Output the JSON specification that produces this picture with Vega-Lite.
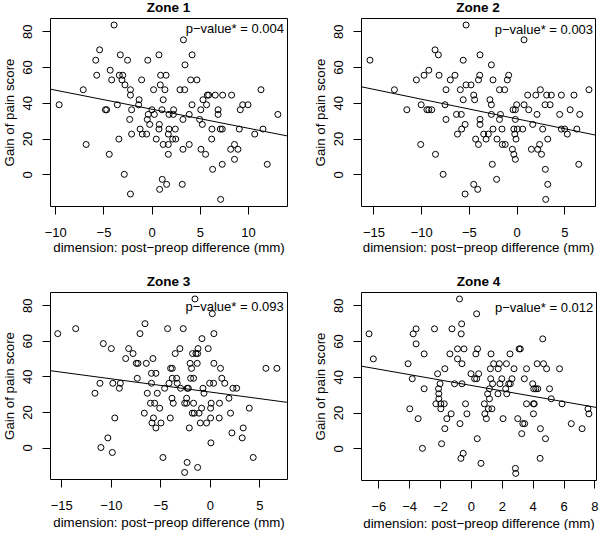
{
  "$schema": "https://vega.github.io/schema/vega-lite/v6.json",
  "padding": {"left": 1, "top": 0, "right": 0, "bottom": 0},
  "background": "white",
  "config": {
    "font": "Liberation Sans",
    "view": {"stroke": "black", "strokeWidth": 1},
    "axis": {"domain": false, "grid": false, "tickColor": "black", "tickSize": 8, "labelColor": "black", "labelFontSize": 13, "titleFontSize": 13.3, "titleFontWeight": "normal", "titleColor": "black", "labelFlush": false, "labelOverlap": false},
    "axisX": {"labelPadding": 12, "titlePadding": 1},
    "axisY": {"labelAngle": -90, "labelAlign": "center", "labelBaseline": "alphabetic", "labelPadding": 11, "titlePadding": 5},
    "title": {"fontSize": 13.5, "fontWeight": "bold", "color": "black", "offset": 4}
  },
  "datasets": {
    "z1": [{"x":-3.9,"y":83.5},{"x":3.3,"y":75.2},{"x":-5.4,"y":69.6},{"x":-3.25,"y":66.8},{"x":0.76,"y":66.8},{"x":4.2,"y":66.8},{"x":-5.8,"y":63.8},{"x":-2.5,"y":63.8},{"x":-0.4,"y":63.8},{"x":3.46,"y":61.2},{"x":-4.3,"y":58.2},{"x":-5.7,"y":55.4},{"x":-3.36,"y":55.4},{"x":-3.0,"y":55.4},{"x":0.93,"y":55.4},{"x":1.5,"y":55.4},{"x":-4.15,"y":52.8},{"x":-3.08,"y":52.8},{"x":-1.04,"y":52.8},{"x":4.05,"y":52.8},{"x":4.7,"y":52.8},{"x":-2.77,"y":50.0},{"x":0.9,"y":50.0},{"x":-7.1,"y":47.3},{"x":-2.2,"y":47.3},{"x":0.2,"y":47.3},{"x":1.38,"y":47.3},{"x":2.94,"y":47.3},{"x":3.43,"y":47.3},{"x":11.35,"y":47.3},{"x":-2.2,"y":44.3},{"x":5.78,"y":44.3},{"x":5.92,"y":44.3},{"x":6.6,"y":44.3},{"x":7.37,"y":44.3},{"x":8.3,"y":44.3},{"x":-1.3,"y":41.7},{"x":1.2,"y":41.7},{"x":5.33,"y":41.7},{"x":-9.6,"y":38.9},{"x":-3.56,"y":38.9},{"x":-1.35,"y":38.9},{"x":4.19,"y":38.9},{"x":5.7,"y":38.9},{"x":9.45,"y":38.9},{"x":10.0,"y":38.9},{"x":-4.8,"y":36.1},{"x":-4.67,"y":36.1},{"x":-2.08,"y":36.1},{"x":0.03,"y":36.1},{"x":1.07,"y":36.1},{"x":2.28,"y":36.1},{"x":5.1,"y":36.1},{"x":6.9,"y":36.1},{"x":9.2,"y":36.1},{"x":-0.35,"y":33.5},{"x":0.28,"y":33.5},{"x":1.8,"y":33.5},{"x":2.25,"y":33.5},{"x":3.9,"y":33.5},{"x":6.9,"y":33.5},{"x":13.1,"y":33.5},{"x":-2.28,"y":30.7},{"x":-0.45,"y":30.7},{"x":3.25,"y":30.7},{"x":4.98,"y":30.7},{"x":-0.2,"y":27.9},{"x":0.8,"y":27.9},{"x":5.26,"y":27.9},{"x":-1.2,"y":25.3},{"x":0.76,"y":25.3},{"x":1.8,"y":25.3},{"x":2.46,"y":25.3},{"x":6.26,"y":25.3},{"x":7.13,"y":25.3},{"x":7.33,"y":25.3},{"x":9.1,"y":25.3},{"x":11.56,"y":25.3},{"x":-2.08,"y":22.5},{"x":-0.97,"y":22.5},{"x":-0.52,"y":22.5},{"x":1.73,"y":22.5},{"x":10.7,"y":22.5},{"x":-3.4,"y":19.7},{"x":0.48,"y":19.7},{"x":2.18,"y":19.7},{"x":2.5,"y":19.7},{"x":6.23,"y":19.7},{"x":-6.8,"y":16.7},{"x":1.2,"y":16.7},{"x":1.73,"y":16.7},{"x":3.9,"y":16.7},{"x":8.6,"y":16.7},{"x":3.25,"y":14.0},{"x":5.12,"y":14.0},{"x":8.2,"y":14.0},{"x":8.96,"y":14.0},{"x":-4.4,"y":11.2},{"x":1.73,"y":11.2},{"x":5.6,"y":11.2},{"x":8.6,"y":8.4},{"x":7.33,"y":5.6},{"x":12.0,"y":5.6},{"x":6.33,"y":2.8},{"x":-2.84,"y":0},{"x":1.1,"y":-2.8},{"x":1.56,"y":-5.6},{"x":3.18,"y":-5.6},{"x":0.83,"y":-8.4},{"x":-2.2,"y":-11.0},{"x":7.16,"y":-14.0}],
    "z2": [{"x":-5.3,"y":83.5},{"x":0.77,"y":75.2},{"x":-8.55,"y":69.6},{"x":-8.2,"y":66.8},{"x":-3.84,"y":66.8},{"x":-15.36,"y":63.8},{"x":-5.6,"y":63.8},{"x":-2.65,"y":61.2},{"x":-9.2,"y":58.2},{"x":-9.7,"y":55.4},{"x":-8.13,"y":55.4},{"x":-6.46,"y":55.4},{"x":-3.87,"y":55.4},{"x":-0.84,"y":55.4},{"x":-10.5,"y":52.8},{"x":-6.95,"y":52.8},{"x":-4.0,"y":52.8},{"x":-2.48,"y":52.8},{"x":-0.98,"y":52.8},{"x":-5.3,"y":50.0},{"x":-4.78,"y":50.0},{"x":-12.8,"y":47.3},{"x":-7.4,"y":47.3},{"x":-5.9,"y":47.3},{"x":-1.8,"y":47.3},{"x":-1.26,"y":47.3},{"x":2.48,"y":47.3},{"x":7.57,"y":47.3},{"x":-4.5,"y":44.3},{"x":1.15,"y":44.3},{"x":2.0,"y":44.3},{"x":3.14,"y":44.3},{"x":3.63,"y":44.3},{"x":4.68,"y":44.3},{"x":6.0,"y":44.3},{"x":-5.6,"y":41.7},{"x":-4.4,"y":41.7},{"x":-2.8,"y":41.7},{"x":-10.0,"y":38.9},{"x":-7.5,"y":38.9},{"x":-2.65,"y":38.9},{"x":0,"y":38.9},{"x":0.77,"y":38.9},{"x":2.97,"y":38.9},{"x":3.5,"y":38.9},{"x":-11.5,"y":36.1},{"x":-9.4,"y":36.1},{"x":-9.2,"y":36.1},{"x":-8.9,"y":36.1},{"x":-0.38,"y":36.1},{"x":-0.14,"y":36.1},{"x":1.26,"y":36.1},{"x":5.6,"y":36.1},{"x":-6.3,"y":33.5},{"x":-5.8,"y":33.5},{"x":-2.65,"y":33.5},{"x":-1.7,"y":33.5},{"x":2.13,"y":33.5},{"x":4.5,"y":33.5},{"x":6.6,"y":33.5},{"x":-7.4,"y":30.7},{"x":-3.84,"y":30.7},{"x":-1.8,"y":30.7},{"x":-0.14,"y":30.7},{"x":-5.4,"y":27.9},{"x":-3.84,"y":27.9},{"x":1.68,"y":27.9},{"x":-5.76,"y":25.3},{"x":-2.48,"y":25.3},{"x":-1.54,"y":25.3},{"x":-0.3,"y":25.3},{"x":0.07,"y":25.3},{"x":0.63,"y":25.3},{"x":2.72,"y":25.3},{"x":4.68,"y":25.3},{"x":5.03,"y":25.3},{"x":6.3,"y":25.3},{"x":-6.2,"y":22.5},{"x":-3.45,"y":22.5},{"x":-2.97,"y":22.5},{"x":-0.2,"y":22.5},{"x":5.3,"y":22.5},{"x":-4.3,"y":19.7},{"x":-3.2,"y":19.7},{"x":-2.06,"y":19.7},{"x":-0.07,"y":19.7},{"x":3.25,"y":19.7},{"x":-10.05,"y":16.7},{"x":-4.0,"y":16.7},{"x":-1.5,"y":16.7},{"x":-1.2,"y":16.7},{"x":2.4,"y":16.7},{"x":-0.45,"y":14.0},{"x":1.54,"y":14.0},{"x":2.2,"y":14.0},{"x":-8.5,"y":11.2},{"x":-0.3,"y":11.2},{"x":2.6,"y":11.2},{"x":-0.14,"y":8.4},{"x":-2.55,"y":5.6},{"x":6.5,"y":5.6},{"x":3.0,"y":2.8},{"x":-7.7,"y":0},{"x":-2.1,"y":-2.8},{"x":-4.5,"y":-5.6},{"x":3.25,"y":-5.6},{"x":-4.08,"y":-8.4},{"x":-5.4,"y":-11.0},{"x":3.04,"y":-14.0}],
    "z3": [{"x":-1.51,"y":83.5},{"x":0.24,"y":75.2},{"x":-15.36,"y":64.0},{"x":-13.55,"y":66.8},{"x":-6.55,"y":69.6},{"x":-4.27,"y":66.8},{"x":-2.69,"y":66.8},{"x":-7.06,"y":64.0},{"x":0.4,"y":64.0},{"x":-0.8,"y":61.2},{"x":-10.76,"y":58.4},{"x":-9.95,"y":55.6},{"x":-8.2,"y":55.6},{"x":-3.03,"y":55.6},{"x":-1.2,"y":55.6},{"x":-0.17,"y":55.6},{"x":-7.76,"y":52.8},{"x":-3.5,"y":52.8},{"x":-1.75,"y":52.8},{"x":-1.41,"y":52.8},{"x":-1.24,"y":52.8},{"x":-8.5,"y":50.0},{"x":-5.75,"y":50.0},{"x":-7.43,"y":47.3},{"x":-7.26,"y":47.3},{"x":-6.42,"y":47.3},{"x":-2.0,"y":47.3},{"x":-1.28,"y":47.3},{"x":0.4,"y":47.3},{"x":-5.9,"y":41.7},{"x":-5.45,"y":41.7},{"x":-1.85,"y":44.5},{"x":-3.97,"y":44.5},{"x":-3.8,"y":44.5},{"x":1.07,"y":44.5},{"x":5.65,"y":44.5},{"x":6.76,"y":44.5},{"x":-7.33,"y":38.9},{"x":-3.8,"y":38.9},{"x":-3.36,"y":38.9},{"x":-1.95,"y":38.9},{"x":-1.65,"y":38.9},{"x":1.2,"y":38.9},{"x":-11.1,"y":36.1},{"x":-9.8,"y":36.1},{"x":-9.04,"y":36.1},{"x":-5.9,"y":36.1},{"x":-4.13,"y":36.1},{"x":-3.3,"y":36.1},{"x":-0.03,"y":36.1},{"x":0.37,"y":36.1},{"x":1.5,"y":36.1},{"x":-9.14,"y":33.3},{"x":-4.57,"y":33.3},{"x":-2.96,"y":33.3},{"x":-2.29,"y":33.3},{"x":-2.18,"y":33.3},{"x":-0.7,"y":33.3},{"x":2.32,"y":33.3},{"x":2.7,"y":33.3},{"x":-11.6,"y":30.5},{"x":-6.32,"y":30.5},{"x":-5.31,"y":30.5},{"x":-0.6,"y":30.5},{"x":-3.83,"y":27.7},{"x":-2.35,"y":27.7},{"x":1.92,"y":27.7},{"x":-6.0,"y":24.9},{"x":-5.58,"y":24.9},{"x":-3.7,"y":24.9},{"x":-2.55,"y":24.9},{"x":-2.35,"y":24.9},{"x":-1.65,"y":24.9},{"x":0.13,"y":24.9},{"x":0.97,"y":24.9},{"x":-5.07,"y":22.1},{"x":-0.84,"y":22.1},{"x":0.07,"y":22.1},{"x":3.97,"y":22.1},{"x":-6.62,"y":19.3},{"x":-1.78,"y":19.3},{"x":-1.58,"y":19.3},{"x":-1.1,"y":19.3},{"x":2.08,"y":19.3},{"x":-9.6,"y":16.6},{"x":-5.7,"y":16.6},{"x":-4.0,"y":16.6},{"x":0.07,"y":16.6},{"x":0.94,"y":16.6},{"x":-5.85,"y":13.8},{"x":-4.94,"y":13.8},{"x":-0.97,"y":13.8},{"x":-0.34,"y":13.8},{"x":-5.45,"y":11.0},{"x":-2.08,"y":11.0},{"x":3.36,"y":11.0},{"x":2.22,"y":8.2},{"x":3.26,"y":5.4},{"x":-10.3,"y":5.4},{"x":0.1,"y":2.6},{"x":-11.0,"y":0},{"x":-9.85,"y":-2.8},{"x":-4.74,"y":-5.6},{"x":4.37,"y":-5.6},{"x":-2.3,"y":-8.4},{"x":-1.24,"y":-11.2},{"x":-2.55,"y":-14.0}],
    "z4": [{"x":-0.74,"y":83.5},{"x":0.37,"y":75.2},{"x":-0.6,"y":69.6},{"x":-3.55,"y":66.8},{"x":-2.36,"y":66.8},{"x":-1.23,"y":66.8},{"x":-6.6,"y":64.0},{"x":-3.74,"y":64.0},{"x":-0.63,"y":64.0},{"x":4.65,"y":61.2},{"x":-3.55,"y":58.4},{"x":-0.87,"y":55.6},{"x":-0.45,"y":55.6},{"x":0.43,"y":55.6},{"x":3.12,"y":55.6},{"x":3.2,"y":55.6},{"x":-3.03,"y":52.8},{"x":-1.36,"y":52.8},{"x":0.32,"y":52.8},{"x":1.3,"y":52.8},{"x":2.53,"y":52.8},{"x":-6.32,"y":50.0},{"x":-0.87,"y":50.0},{"x":-4.07,"y":47.3},{"x":-0.58,"y":47.3},{"x":1.47,"y":47.3},{"x":1.84,"y":47.3},{"x":2.3,"y":47.3},{"x":4.29,"y":47.3},{"x":4.7,"y":47.3},{"x":-1.69,"y":44.5},{"x":1.26,"y":44.5},{"x":1.77,"y":44.5},{"x":2.79,"y":44.5},{"x":3.6,"y":44.5},{"x":4.9,"y":44.5},{"x":5.74,"y":44.5},{"x":-2.16,"y":41.7},{"x":0.0,"y":41.7},{"x":0.5,"y":41.7},{"x":-3.8,"y":38.9},{"x":0.24,"y":38.9},{"x":0.37,"y":38.9},{"x":1.28,"y":38.9},{"x":2.0,"y":38.9},{"x":2.66,"y":38.9},{"x":3.46,"y":38.9},{"x":-2.0,"y":36.1},{"x":-1.06,"y":36.1},{"x":-0.58,"y":36.1},{"x":1.4,"y":36.1},{"x":1.88,"y":36.1},{"x":2.45,"y":36.1},{"x":2.55,"y":36.1},{"x":4.0,"y":36.1},{"x":-2.1,"y":33.3},{"x":-3.03,"y":33.3},{"x":1.2,"y":33.3},{"x":2.25,"y":33.3},{"x":4.07,"y":33.3},{"x":4.2,"y":33.3},{"x":4.33,"y":33.3},{"x":5.09,"y":33.3},{"x":-2.08,"y":30.5},{"x":1.08,"y":30.5},{"x":1.75,"y":30.5},{"x":2.32,"y":30.5},{"x":-2.08,"y":27.7},{"x":1.2,"y":27.7},{"x":5.2,"y":27.7},{"x":-2.27,"y":24.9},{"x":-1.95,"y":24.9},{"x":-1.73,"y":24.9},{"x":-0.35,"y":24.9},{"x":0.87,"y":24.9},{"x":3.6,"y":24.9},{"x":4.05,"y":24.9},{"x":4.1,"y":24.9},{"x":5.9,"y":24.9},{"x":-3.96,"y":22.1},{"x":-1.95,"y":22.1},{"x":1.13,"y":22.1},{"x":1.36,"y":22.1},{"x":7.58,"y":22.1},{"x":-1.28,"y":19.3},{"x":-0.26,"y":19.3},{"x":0.9,"y":19.3},{"x":4.05,"y":19.3},{"x":7.64,"y":19.3},{"x":-3.42,"y":16.6},{"x":-1.56,"y":16.6},{"x":1.0,"y":16.6},{"x":2.08,"y":16.6},{"x":3.03,"y":16.6},{"x":-0.71,"y":13.8},{"x":3.36,"y":13.8},{"x":3.48,"y":13.8},{"x":6.5,"y":13.8},{"x":-1.69,"y":11.0},{"x":4.5,"y":11.0},{"x":7.2,"y":11.0},{"x":3.29,"y":8.2},{"x":0.41,"y":5.4},{"x":4.83,"y":5.4},{"x":-1.9,"y":2.6},{"x":-3.14,"y":0},{"x":-0.5,"y":-2.8},{"x":-0.65,"y":-5.6},{"x":4.48,"y":-5.6},{"x":0.65,"y":-8.4},{"x":2.88,"y":-11.2},{"x":2.9,"y":-14.0}]
  },
  "vconcat": [
    {
      "spacing": 24,
      "hconcat": [
        {
          "width": 237, "height": 188,
          "title": "Zone 1",
          "layer": [
            {"data": {"name": "z1"}, "mark": {"type": "point", "shape": "circle", "filled": false, "color": "black", "size": 36, "strokeWidth": 1, "opacity": 1},
             "encoding": {
               "x": {"field": "x", "type": "quantitative", "scale": {"domain": [-10.55, 14.05], "nice": false, "zero": false}, "axis": {"values": [-10, -5, 0, 5, 10], "tickCount": 10, "title": "dimension: post−preop difference (mm)"}},
               "y": {"field": "y", "type": "quantitative", "scale": {"domain": [-17.7, 87.4], "nice": false, "zero": false}, "axis": {"values": [0, 20, 40, 60, 80], "tickCount": 10, "title": "Gain of pain score"}}}},
            {"data": {"values": [{"x": -10.55, "y": 47.65}, {"x": 14.05, "y": 21.5}]}, "mark": {"type": "line", "color": "black", "strokeWidth": 1, "clip": true},
             "encoding": {"x": {"field": "x", "type": "quantitative"}, "y": {"field": "y", "type": "quantitative"}}},
            {"data": {"values": [{"label": "p−value* = 0.004"}]}, "mark": {"type": "text", "align": "right", "baseline": "middle", "fontSize": 13, "color": "black"},
             "encoding": {"x": {"datum": 13.74}, "y": {"datum": 81.3}, "text": {"field": "label"}}}
          ]
        },
        {
          "width": 234, "height": 188,
          "title": "Zone 2",
          "layer": [
            {"data": {"name": "z2"}, "mark": {"type": "point", "shape": "circle", "filled": false, "color": "black", "size": 36, "strokeWidth": 1, "opacity": 1},
             "encoding": {
               "x": {"field": "x", "type": "quantitative", "scale": {"domain": [-16.3, 8.2], "nice": false, "zero": false}, "axis": {"values": [-15, -10, -5, 0, 5], "tickCount": 10, "title": "dimension: post−preop difference (mm)"}},
               "y": {"field": "y", "type": "quantitative", "scale": {"domain": [-17.7, 87.4], "nice": false, "zero": false}, "axis": {"values": [0, 20, 40, 60, 80], "tickCount": 10, "title": "Gain of pain score"}}}},
            {"data": {"values": [{"x": -16.3, "y": 48.98}, {"x": 8.2, "y": 22.0}]}, "mark": {"type": "line", "color": "black", "strokeWidth": 1, "clip": true},
             "encoding": {"x": {"field": "x", "type": "quantitative"}, "y": {"field": "y", "type": "quantitative"}}},
            {"data": {"values": [{"label": "p−value* = 0.003"}]}, "mark": {"type": "text", "align": "right", "baseline": "middle", "fontSize": 13, "color": "black"},
             "encoding": {"x": {"datum": 8.0}, "y": {"datum": 80.7}, "text": {"field": "label"}}}
          ]
        }
      ]
    },
    {
      "spacing": 24,
      "hconcat": [
        {
          "width": 237, "height": 187,
          "title": "Zone 3",
          "layer": [
            {"data": {"name": "z3"}, "mark": {"type": "point", "shape": "circle", "filled": false, "color": "black", "size": 36, "strokeWidth": 1, "opacity": 1},
             "encoding": {
               "x": {"field": "x", "type": "quantitative", "scale": {"domain": [-16.14, 7.78], "nice": false, "zero": false}, "axis": {"values": [-15, -10, -5, 0, 5], "tickCount": 10, "titlePadding": 3, "title": "dimension: post−preop difference (mm)"}},
               "y": {"field": "y", "type": "quantitative", "scale": {"domain": [-17.7, 87.4], "nice": false, "zero": false}, "axis": {"values": [0, 20, 40, 60, 80], "tickCount": 10, "title": "Gain of pain score"}}}},
            {"data": {"values": [{"x": -16.14, "y": 43.2}, {"x": 7.78, "y": 25.4}]}, "mark": {"type": "line", "color": "black", "strokeWidth": 1, "clip": true},
             "encoding": {"x": {"field": "x", "type": "quantitative"}, "y": {"field": "y", "type": "quantitative"}}},
            {"data": {"values": [{"label": "p−value* = 0.093"}]}, "mark": {"type": "text", "align": "right", "baseline": "middle", "fontSize": 13, "color": "black"},
             "encoding": {"x": {"datum": 7.45}, "y": {"datum": 78.7}, "text": {"field": "label"}}}
          ]
        },
        {
          "width": 235, "height": 188,
          "title": "Zone 4",
          "layer": [
            {"data": {"name": "z4"}, "mark": {"type": "point", "shape": "circle", "filled": false, "color": "black", "size": 36, "strokeWidth": 1, "opacity": 1},
             "encoding": {
               "x": {"field": "x", "type": "quantitative", "scale": {"domain": [-7.12, 8.1], "nice": false, "zero": false}, "axis": {"values": [-6, -4, -2, 0, 2, 4, 6, 8], "tickCount": 12, "titlePadding": 3, "title": "dimension: post−preop difference (mm)"}},
               "y": {"field": "y", "type": "quantitative", "scale": {"domain": [-17.7, 87.4], "nice": false, "zero": false}, "axis": {"values": [0, 20, 40, 60, 80], "tickCount": 10, "title": "Gain of pain score"}}}},
            {"data": {"values": [{"x": -7.12, "y": 45.97}, {"x": 8.1, "y": 22.9}]}, "mark": {"type": "line", "color": "black", "strokeWidth": 1, "clip": true},
             "encoding": {"x": {"field": "x", "type": "quantitative"}, "y": {"field": "y", "type": "quantitative"}}},
            {"data": {"values": [{"label": "p−value* = 0.012"}]}, "mark": {"type": "text", "align": "right", "baseline": "middle", "fontSize": 13, "color": "black"},
             "encoding": {"x": {"datum": 7.92}, "y": {"datum": 78.7}, "text": {"field": "label"}}}
          ]
        }
      ]
    }
  ],
  "spacing": 20
}
